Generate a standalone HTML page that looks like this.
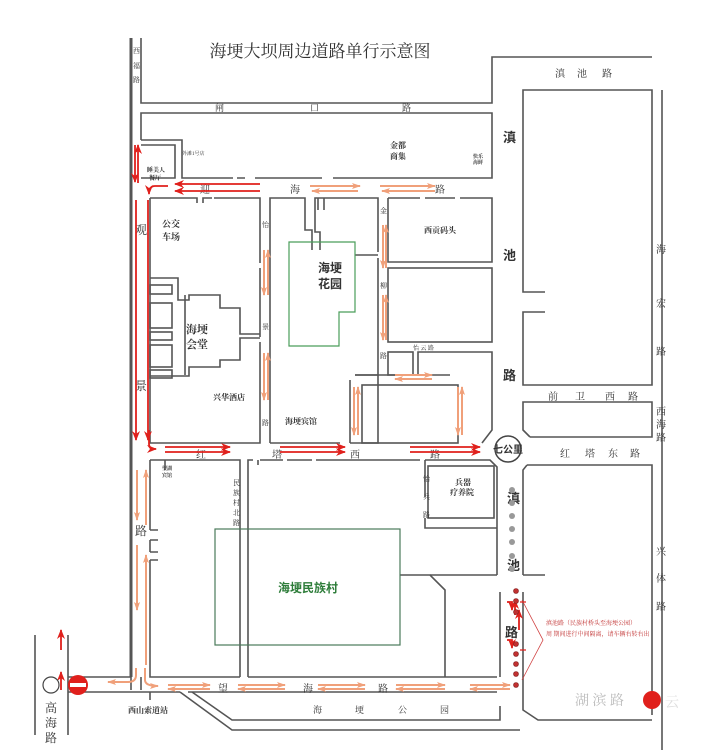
<!DOCTYPE html>
<html><head><meta charset="utf-8"><style>
html,body{margin:0;padding:0;background:#fff}
svg{display:block}
text{font-family:"Liberation Serif","Noto Serif CJK SC","Noto Sans CJK SC",serif;fill:#333}
.s{font-family:"Liberation Sans","Noto Sans CJK SC",sans-serif;font-weight:bold}
</style></head><body>
<svg width="710" height="750" viewBox="0 0 710 750" xmlns="http://www.w3.org/2000/svg">
<defs>
<marker id="r" markerWidth="10" markerHeight="8" refX="9" refY="4" orient="auto" markerUnits="userSpaceOnUse"><path d="M0,0 L10,4 L0,8 L3,4z" fill="#e0201c"/></marker>
<marker id="o" markerWidth="9" markerHeight="6" refX="8" refY="3" orient="auto" markerUnits="userSpaceOnUse"><path d="M0,0 L9,3 L0,6 L2,3z" fill="#f0a07a"/></marker>
</defs>
<rect width="710" height="750" fill="#fff"/>
<text x="320" y="57" font-size="17" text-anchor="middle" fill="#333">海埂大坝周边道路单行示意图</text>

<g fill="none" stroke="#555" stroke-width="1.6">
<line x1="131" y1="38" x2="131" y2="677" stroke-width="3"/>
<path d="M141,38 V103 H492 V57 H652"/>
<path d="M141,140 V113 H492 V178 H333"/>
<path d="M322,178 H255 M245,178 H237 M233,178 H182 V140 H141"/>
<path d="M141,145 H175 V178 H141"/>
<!-- left block -->
<path d="M150,198 H197 V203 M203,203 V198 H212 M214,198 H260 V263 M260,268 V337 M260,342 V443 H150 V198"/>
<!-- hall -->
<path d="M150,278 H178 V300 H189 V295 H220 V308 H240 V334 H260 M260,338 H240 V360 H220 V367 H189 V376 H150"/>
<path d="M185,295 V375"/>
<rect x="150" y="285" width="22" height="9"/><rect x="150" y="303" width="22" height="25"/><rect x="150" y="332" width="22" height="8"/><rect x="150" y="345" width="22" height="22"/><rect x="150" y="370" width="22" height="8"/>
<!-- middle block -->
<path d="M270,443 V198 H305 V230 H312 V250"/>
<path d="M320,250 V232 H315 V198 H378 V252"/>
<path d="M378,258 V443 H350"/>
<path d="M340,443 H270"/>
<path d="M318,198 V210 M324,198 V210"/>
<path d="M355,255 H378 M355,375 H378"/>
<!-- right blocks -->
<path d="M388,198 H420 M425,198 H455 M460,198 H492 V262 H388 V198"/>
<rect x="388" y="268" width="104" height="74"/>
<rect x="388" y="352" width="25" height="23"/>
<path d="M418,375 V352 H492 V430 L482,443"/>
<path d="M350,380 V443"/>
<path d="M355,375 H450"/>
<rect x="362" y="385" width="96" height="58"/>
<!-- Hongta west lower side -->
<path d="M248,677 V460 H253 M258,460 V465 M260,460 H283 M287,460 H312 M316,460 H420 M425,460 V497"/>
<path d="M425,460 H490 L497,467 V575 M500,592 V677"/>
<path d="M150,460 H240 V677"/>
<path d="M150,460 V530 M150,540 V552 M150,560 V677 H240 M248,677 H497"/>
<path d="M150,530 H158 M150,540 H158 M150,552 H158 M150,560 H158"/>
<path d="M165,460 V470"/>
<rect x="428" y="466" width="66" height="52"/>
<path d="M425,518 V528 H497"/>
<path d="M400,575 H430 L445,590 V677"/>
<path d="M430,575 H497"/>
<!-- 滇池路 right side & right blocks -->
<path d="M545,292 H523 V90 H652 V385 H523 V312 H545"/>
<path d="M662,90 V750"/>
<path d="M530,437 H652 V402 H523 V430 L530,437"/>
<path d="M527,465 H652 V715"/>
<path d="M523,575 H545"/>
<path d="M527,465 L523,470 V575 M523,592 V710 L538,720 H652"/>
<!-- 望海路 bottom -->
<path d="M188,692 H497"/>
<path d="M180,692 L232,730 H520"/>
<path d="M150,692 H180"/>
<path d="M192,692 L232,720 H500 V706"/>
<path d="M131,677 V690 M141,690 V677 M150,692 V700"/>
<path d="M35,635 V735 M68,635 V735"/>
<path d="M68,677 H131 M68,692 H150"/>
</g>
<circle cx="508" cy="449" r="13" fill="#fff" stroke="#444" stroke-width="1.5"/>
<text x="508" y="453" font-size="10" text-anchor="middle" class="s">七公里</text>
<path d="M289,242 H355 V312 H339 V346 H289 Z" fill="none" stroke="#4a9e5a" stroke-width="1.2"/>
<rect x="215" y="529" width="185" height="116" fill="none" stroke="#4a7a5a" stroke-width="1.2"/>
<text x="330" y="272" font-size="12" text-anchor="middle" class="s">海埂</text>
<text x="330" y="288" font-size="12" text-anchor="middle" class="s">花园</text>
<text x="308" y="592" font-size="12" text-anchor="middle" class="s" style="fill:#2e7d3a">海埂民族村</text>

<g font-size="10">
<text x="133" y="53" font-size="7">西</text><text x="133" y="68" font-size="7">福</text><text x="133" y="82" font-size="7">路</text>
<text x="215" y="111" font-size="9">闸</text><text x="310" y="111" font-size="9">口</text><text x="402" y="111" font-size="9">路</text>
<text x="200" y="193">迎</text><text x="290" y="193">海</text><text x="435" y="193">路</text>
<text x="135" y="234" font-size="12">观</text><text x="135" y="390" font-size="12">景</text><text x="135" y="535" font-size="12">路</text>
<text x="196" y="458">红</text><text x="272" y="458">塔</text><text x="350" y="458">西</text><text x="430" y="458">路</text>
<text x="503" y="142" font-size="13" class="s">滇</text><text x="503" y="260" font-size="13" class="s">池</text><text x="503" y="380" font-size="13" class="s">路</text>
<text x="507" y="503" font-size="13" class="s">滇</text><text x="507" y="570" font-size="13" class="s">池</text><text x="505" y="637" font-size="13" class="s">路</text>
<text x="555" y="77">滇</text><text x="577" y="77">池</text><text x="602" y="77">路</text>
<text x="656" y="253">海</text><text x="656" y="307">宏</text><text x="656" y="355">路</text>
<text x="548" y="400">前</text><text x="575" y="400">卫</text><text x="605" y="400">西</text><text x="628" y="400">路</text>
<text x="560" y="457">红</text><text x="585" y="457">塔</text><text x="608" y="457">东</text><text x="630" y="457">路</text>
<text x="656" y="415">西</text><text x="656" y="428">海</text><text x="656" y="441">路</text>
<text x="656" y="555">兴</text><text x="656" y="582">体</text><text x="656" y="610">路</text>
<text x="218" y="692">望</text><text x="303" y="692">海</text><text x="378" y="692">路</text>
<text x="313" y="713" font-size="9">海</text><text x="355" y="713" font-size="9">埂</text><text x="398" y="713" font-size="9">公</text><text x="440" y="713" font-size="9">园</text>
<text x="45" y="712" font-size="12">高</text><text x="45" y="727" font-size="12">海</text><text x="45" y="742" font-size="12">路</text>
<text x="262" y="227" font-size="7">怡</text><text x="262" y="329" font-size="7">景</text><text x="262" y="425" font-size="7">路</text>
<text x="380" y="213" font-size="7">金</text><text x="380" y="288" font-size="7">柳</text><text x="380" y="358" font-size="7">路</text>
<text x="413" y="350" font-size="6">怡 云 路</text>
<text x="423" y="481" font-size="7">怡</text><text x="423" y="499" font-size="7">兵</text><text x="423" y="517" font-size="7">路</text>
<text x="233" y="485" font-size="7">民</text><text x="233" y="495" font-size="7">族</text><text x="233" y="505" font-size="7">村</text><text x="233" y="515" font-size="7">北</text><text x="233" y="525" font-size="7">路</text>
<text x="182" y="155" font-size="5">外滩1号店</text>
</g>
<g class="s" font-size="8">
<text x="147" y="172" font-size="6">睡美人</text><text x="149" y="180" font-size="6">餐厅</text>
<text x="162" y="227" font-size="9">公交</text><text x="162" y="240" font-size="9">车场</text>
<text x="186" y="333" font-size="11">海埂</text><text x="186" y="348" font-size="11">会堂</text>
<text x="213" y="400" font-size="8">兴华酒店</text>
<text x="285" y="424" font-size="8">海埂宾馆</text>
<text x="390" y="148">金都</text><text x="390" y="159">商集</text>
<text x="473" y="158" font-size="5">快乐</text><text x="473" y="164" font-size="5">海鲜</text>
<text x="424" y="233" font-size="8">西贡码头</text>
<text x="455" y="485">兵器</text><text x="450" y="495">疗养院</text>
<text x="162" y="470" font-size="5">望湖</text><text x="162" y="477" font-size="5">宾馆</text>
<text x="128" y="713" font-size="8">西山索道站</text>
</g>
<text x="546" y="625" font-size="6" style="fill:#c03030">滇池路（民族村桥头至海埂公园）</text>
<text x="546" y="636" font-size="6" style="fill:#c03030">周  期间进行中间隔离，请车辆右转右出</text>
<path d="M522,600 L543,640 L522,680" fill="none" stroke="#d04040" stroke-width="0.8"/>

<g stroke="#e0201c" stroke-width="1.8" fill="none" marker-end="url(#r)">
<path d="M135,145 V182"/><path d="M138,183 V145"/>
<path d="M168,186 H155 Q149,186 149,194"/>
<path d="M260,184 H175"/><path d="M260,191 H175"/>
<path d="M136,200 V440"/><path d="M148,200 V440"/>
<path d="M149,430 V444 Q149,449 156,449"/>
<path d="M165,447 H230"/><path d="M165,452 H230"/>
<path d="M280,447 H345"/><path d="M280,452 H345"/>
<path d="M410,447 H480"/><path d="M410,452 H480"/>
<path d="M61,650 V630"/><path d="M61,690 V672"/>
<path d="M515,615 V600"/><path d="M519,630 V610"/><path d="M507,602 H512 V610"/><path d="M507,640 H512 V648"/>
</g>
<g stroke="#e0201c" stroke-width="1.2" fill="none"><path d="M520,602 H526 M520,650 H526"/></g>
<g stroke="#f0a07a" stroke-width="2" fill="none" marker-end="url(#o)">
<path d="M310,186 H360"/><path d="M358,191 H312"/>
<path d="M380,186 H435"/><path d="M435,191 H382"/>
<path d="M264,250 V295"/><path d="M268,295 V250"/>
<path d="M264,353 V400"/><path d="M268,400 V353"/>
<path d="M383,225 V268"/><path d="M386,268 V225"/>
<path d="M383,295 V340"/><path d="M386,340 V295"/>
<path d="M395,375 H432"/><path d="M432,379 H395"/>
<path d="M354,387 V435"/><path d="M358,435 V387"/>
<path d="M458,387 V435"/><path d="M462,435 V387"/>
<path d="M137,470 V520"/><path d="M146,525 V470"/>
<path d="M137,545 V610"/><path d="M146,665 V555"/>
<path d="M136,668 V675 Q136,682 128,682 H108"/>
<path d="M145,668 V680 Q145,686 158,686"/>
<path d="M168,685 H210"/><path d="M210,689 H168"/>
<path d="M238,685 H285"/><path d="M285,689 H238"/>
<path d="M318,685 H365"/><path d="M365,689 H318"/>
<path d="M396,685 H445"/><path d="M445,689 H396"/>
<path d="M470,685 H510"/><path d="M510,689 H470"/>
</g>
<g fill="#999"><circle cx="512" cy="490" r="3"/><circle cx="512" cy="503" r="3"/><circle cx="512" cy="516" r="3"/><circle cx="512" cy="529" r="3"/><circle cx="512" cy="542" r="3"/><circle cx="512" cy="556" r="3"/><circle cx="512" cy="569" r="3"/></g>
<g fill="#c03030" stroke="#802020" stroke-width="0.6"><circle cx="516" cy="591" r="2.5"/><circle cx="516" cy="601" r="2.5"/><circle cx="516" cy="612" r="2.5"/><circle cx="516" cy="644" r="2.5"/><circle cx="516" cy="654" r="2.5"/><circle cx="516" cy="664" r="2.5"/><circle cx="516" cy="674" r="2.5"/><circle cx="516" cy="685" r="2.5"/></g>
<circle cx="51" cy="685" r="8" fill="#fff" stroke="#444" stroke-width="1.2"/>
<circle cx="78" cy="685" r="10" fill="#e0201c"/><rect x="70" y="683" width="16" height="4" fill="#fff"/>
<text x="575" y="705" font-size="14" style="fill:#bbb">湖 滨 路</text>
<circle cx="652" cy="700" r="9" fill="#e0201c"/>
<text x="665" y="707" font-size="14" style="fill:#ddd">云</text>
</svg>
</body></html>
